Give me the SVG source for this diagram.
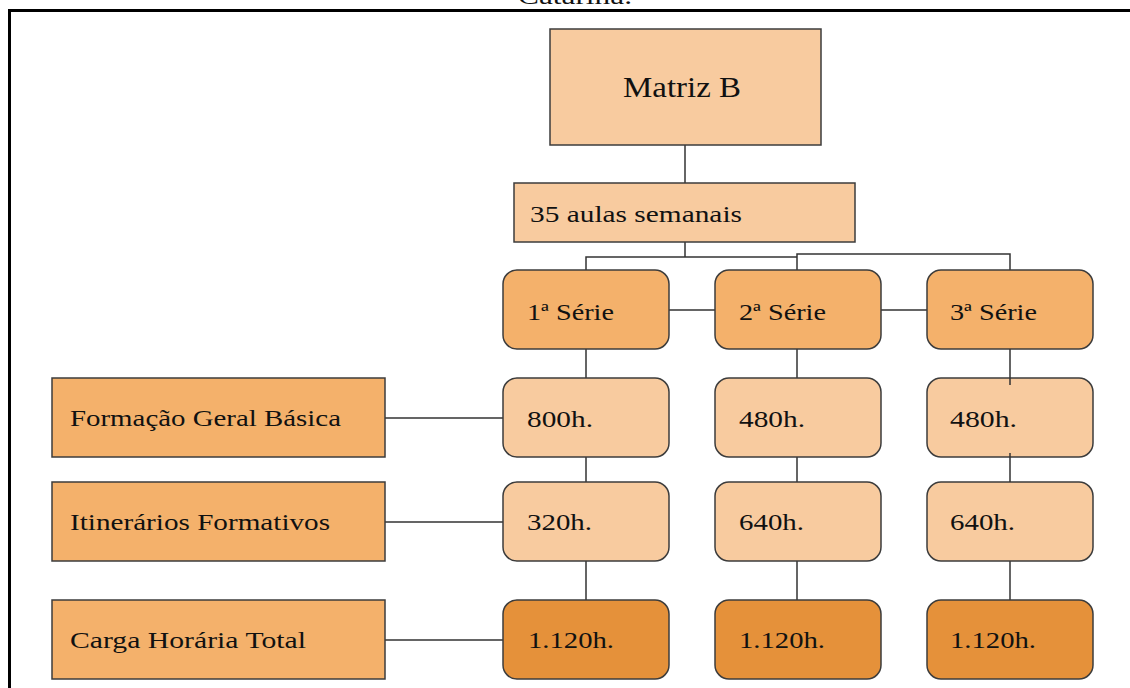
<svg xmlns="http://www.w3.org/2000/svg" width="1130" height="688" viewBox="0 0 1130 688">
<style>
  text { font-family: "Liberation Serif", "Times New Roman", serif; fill: #111; }
  .light { fill: #F8CB9F; stroke: #3c3c3c; stroke-width: 1.5; }
  .mid { fill: #F4B16B; stroke: #3c3c3c; stroke-width: 1.5; }
  .dark { fill: #E5913A; stroke: #3c3c3c; stroke-width: 1.5; }
  .conn { stroke: #333; stroke-width: 1.5; fill: none; }
  .t { font-size: 23px; }
</style>
<rect width="1130" height="688" fill="#fff"/>
<text x="518" y="4" style="font-size:24px" textLength="114" lengthAdjust="spacingAndGlyphs">Catarina.</text>
<path d="M9.5,688 V10.5 H1130" fill="none" stroke="#000" stroke-width="3"/>

<g id="connectors">
  <path class="conn" d="M685,145 V183"/>
  <path class="conn" d="M685,242 V257 M586,270 V257 H797 M797,270 V254 H1010 V270"/>
  <path class="conn" d="M669,310 H715 M881,310 H927"/>
  <path class="conn" d="M586,349 V378 M586,457 V482 M586,561 V600"/>
  <path class="conn" d="M797,349 V378 M797,457 V482 M797,561 V600"/>
  <path class="conn" d="M1010,561 V600"/>
  <path class="conn" d="M385,418 H503 M385,522 H503 M385,640 H503"/>
</g>

<g id="matriz-b"><rect class="light" x="550" y="29" width="271" height="116"/>
<text x="623" y="97" style="font-size:29px" textLength="118" lengthAdjust="spacingAndGlyphs">Matriz B</text></g>
<g id="aulas"><rect class="light" x="514" y="183" width="341" height="59"/>
<text class="t" x="530" y="222" textLength="212" lengthAdjust="spacingAndGlyphs">35 aulas semanais</text></g>

<g id="serie1"><rect class="mid" x="503" y="270" width="166" height="79" rx="14"/>
<text class="t" x="527" y="320" textLength="87" lengthAdjust="spacingAndGlyphs">1ª Série</text></g>
<g id="serie2"><rect class="mid" x="715" y="270" width="166" height="79" rx="14"/>
<text class="t" x="739" y="320" textLength="87" lengthAdjust="spacingAndGlyphs">2ª Série</text></g>
<g id="serie3"><rect class="mid" x="927" y="270" width="166" height="79" rx="14"/>
<text class="t" x="950" y="320" textLength="87" lengthAdjust="spacingAndGlyphs">3ª Série</text></g>

<g id="fgb"><rect class="mid" x="52" y="378" width="333" height="79"/>
<text class="t" x="70" y="426" textLength="271" lengthAdjust="spacingAndGlyphs">Formação Geral Básica</text></g>
<g id="itin"><rect class="mid" x="52" y="482" width="333" height="79"/>
<text class="t" x="70" y="530" textLength="260" lengthAdjust="spacingAndGlyphs">Itinerários Formativos</text></g>
<g id="carga"><rect class="mid" x="52" y="600" width="333" height="79"/>
<text class="t" x="70" y="648" textLength="236" lengthAdjust="spacingAndGlyphs">Carga Horária Total</text></g>

<g id="fgb1"><rect class="light" x="503" y="378" width="166" height="79" rx="14"/>
<text class="t" x="527" y="427" textLength="66" lengthAdjust="spacingAndGlyphs">800h.</text></g>
<g id="fgb2"><rect class="light" x="715" y="378" width="166" height="79" rx="14"/>
<text class="t" x="739" y="427" textLength="66" lengthAdjust="spacingAndGlyphs">480h.</text></g>
<g id="fgb3"><rect class="light" x="927" y="378" width="166" height="79" rx="14"/>
<text class="t" x="950" y="427" textLength="67" lengthAdjust="spacingAndGlyphs">480h.</text></g>

<g id="if1"><rect class="light" x="503" y="482" width="166" height="79" rx="14"/>
<text class="t" x="527" y="530" textLength="65" lengthAdjust="spacingAndGlyphs">320h.</text></g>
<g id="if2"><rect class="light" x="715" y="482" width="166" height="79" rx="14"/>
<text class="t" x="739" y="530" textLength="65" lengthAdjust="spacingAndGlyphs">640h.</text></g>
<g id="if3"><rect class="light" x="927" y="482" width="166" height="79" rx="14"/>
<text class="t" x="950" y="530" textLength="65" lengthAdjust="spacingAndGlyphs">640h.</text></g>

<g id="ch1"><rect class="dark" x="503" y="600" width="166" height="79" rx="14"/>
<text class="t" x="528" y="648" textLength="86" lengthAdjust="spacingAndGlyphs">1.120h.</text></g>
<g id="ch2"><rect class="dark" x="715" y="600" width="166" height="79" rx="14"/>
<text class="t" x="739" y="648" textLength="86" lengthAdjust="spacingAndGlyphs">1.120h.</text></g>
<g id="ch3"><rect class="dark" x="927" y="600" width="166" height="79" rx="14"/>
<text class="t" x="950" y="648" textLength="86" lengthAdjust="spacingAndGlyphs">1.120h.</text></g>

<g id="connectors-over">
  <path class="conn" d="M1010,349 V385 M1010,453 V482"/>
</g>
</svg>
